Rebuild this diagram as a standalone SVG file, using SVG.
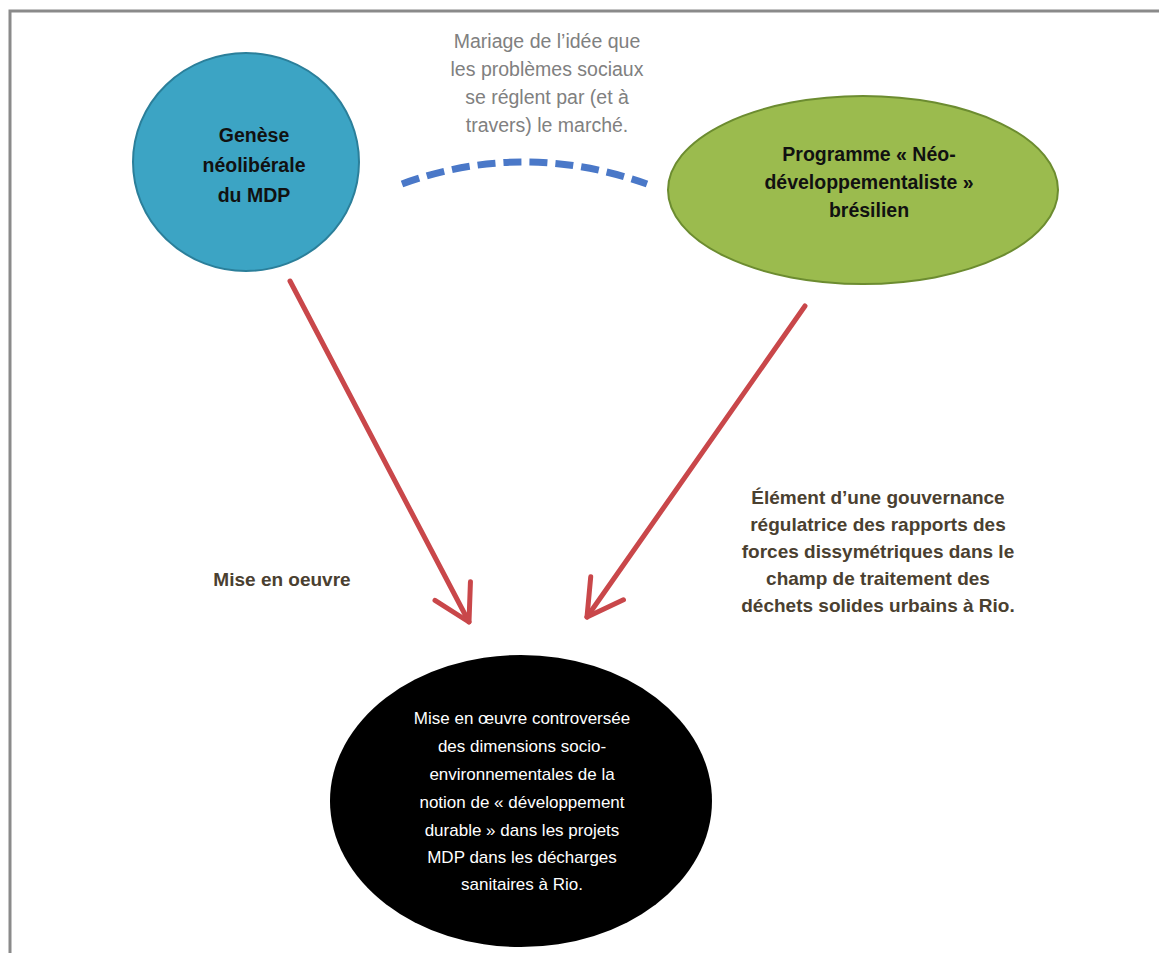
<svg xmlns="http://www.w3.org/2000/svg" width="1159" height="953" viewBox="0 0 1159 953">
<style>
text{font-family:"Liberation Sans",Arial,sans-serif;text-anchor:middle}
.b{font-weight:bold;font-size:19.5px;fill:#111}
.g{font-size:19.5px;fill:#808080}
.w{font-size:17px;fill:#ffffff}
.lab{font-weight:bold;font-size:19px;fill:#4a4030}
.red{fill:none;stroke:#c9474a;stroke-width:5;stroke-linecap:round}
</style>
<defs>
<marker id="ah" markerWidth="10" markerHeight="10" refX="8" refY="5" orient="auto" markerUnits="strokeWidth">
<path d="M1,1 L8,5 L1,9" fill="none" stroke="#c9474a" stroke-width="1" stroke-linecap="round" stroke-linejoin="round"/>
</marker>
</defs>
<rect width="1159" height="953" fill="#ffffff"/>
<path d="M10,953 L10,11 L1159,11" fill="none" stroke="#8a8a8a" stroke-width="3"/>
<g id="connectors">
<path d="M402,184 Q523,140 647,184" fill="none" stroke="#4a78c8" stroke-width="7" stroke-dasharray="18,8"/>
<line class="red" x1="290" y1="281" x2="469" y2="622" marker-end="url(#ah)"/>
<line class="red" x1="805" y1="306" x2="587" y2="617" marker-end="url(#ah)"/>
</g>
<g id="label-marriage">
<text class="g" x="547" y="48">Mariage de l’idée que</text>
<text class="g" x="547" y="76">les problèmes sociaux</text>
<text class="g" x="547" y="104">se réglent par (et à</text>
<text class="g" x="547" y="132">travers) le marché.</text>
</g>
<g id="node-genese">
<ellipse cx="246" cy="162" rx="113" ry="109" fill="#3ca4c4" stroke="#2b7f9a" stroke-width="2"/>
<text class="b" x="254" y="142">Genèse</text>
<text class="b" x="254" y="172">néolibérale</text>
<text class="b" x="254" y="202">du MDP</text>
</g>
<g id="node-programme">
<ellipse cx="863" cy="190" rx="195" ry="94" fill="#9bbb4e" stroke="#6c8c30" stroke-width="2"/>
<text class="b" x="869" y="161">Programme « Néo-</text>
<text class="b" x="869" y="189">développementaliste »</text>
<text class="b" x="869" y="217">brésilien</text>
</g>
<g id="label-mise">
<text class="lab" x="282" y="586">Mise en oeuvre</text>
</g>
<g id="label-element">
<text class="lab" x="878" y="504">Élément d’une gouvernance</text>
<text class="lab" x="878" y="531">régulatrice des rapports des</text>
<text class="lab" x="878" y="558">forces dissymétriques dans le</text>
<text class="lab" x="878" y="585">champ de traitement des</text>
<text class="lab" x="878" y="612">déchets solides urbains à Rio.</text>
</g>
<g id="node-mise-en-oeuvre">
<ellipse cx="521" cy="801" rx="191" ry="146" fill="#000000"/>
<text class="w" x="522" y="724">Mise en œuvre controversée</text>
<text class="w" x="522" y="752">des dimensions socio-</text>
<text class="w" x="522" y="780">environnementales de la</text>
<text class="w" x="522" y="808">notion de « développement</text>
<text class="w" x="522" y="836">durable » dans les projets</text>
<text class="w" x="522" y="863">MDP dans les décharges</text>
<text class="w" x="522" y="890">sanitaires à Rio.</text>
</g>
</svg>
